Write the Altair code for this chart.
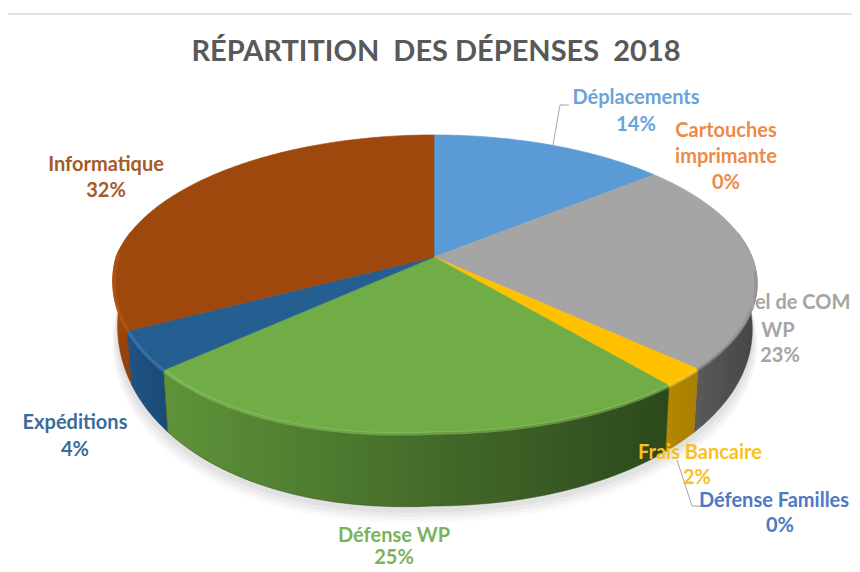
import math
import altair as alt
import pandas as pd

categories = ["Déplacements", "Cartouches imprimante", "Matériel de COM WP", "Frais Bancaire",
              "Défense Familles", "Défense WP", "Expéditions", "Informatique"]
shares = [14, 0, 23, 2, 0, 25, 4, 32]
top_colors = ["#5b9bd5", "#ed7d31", "#a5a5a5", "#ffc000", "#4472c4", "#70ad47", "#255e91", "#9e480e"]
wall_from = ["#5b9bd5", "#ed7d31", "#5a5a5a", "#b58800", "#4472c4", "#5f9339", "#1f5384", "#b8530f"]
wall_to = ["#5b9bd5", "#ed7d31", "#454545", "#a87f00", "#4472c4", "#2c481c", "#1b4a75", "#8a3f0b"]
rim_colors = ["#7db1e0", "#ed7d31", "#8a8a8a", "#ffcf40", "#4472c4", "#8cc761", "#3f7fb8", "#c05a14"]

label_lines = [
    ("Déplacements", 636, 98, "#6ba3d8"), ("14%", 636, 125, "#6ba3d8"),
    ("Cartouches", 726, 131, "#ee8a48"), ("imprimante", 726, 157, "#ee8a48"), ("0%", 726, 183, "#ee8a48"),
    ("Matériel de COM", 773, 303, "#a5a5a5"), ("WP", 778, 331, "#a5a5a5"), ("23%", 780, 356, "#a5a5a5"),
    ("Frais Bancaire", 700, 453, "#f7c21f"), ("2%", 697, 478, "#f7c21f"),
    ("Défense Familles", 774, 501, "#4f78c4"), ("0%", 780, 526, "#4f78c4"),
    ("Défense WP", 394, 536, "#7cb25a"), ("25%", 394, 558, "#7cb25a"),
    ("Expéditions", 75, 423, "#3a6c9a"), ("4%", 75, 450, "#3a6c9a"),
    ("Informatique", 106, 165, "#a55a28"), ("32%", 106, 191, "#a55a28"),
]
leaders = [
    [(569, 105), (560, 105), (553, 145)],
    [(677, 460), (692, 506), (702, 506)],
]
title_text = "RÉPARTITION\u00a0 DES DÉPENSES\u00a0 2018"

W, H = 844, 562
xs = alt.Scale(domain=[8, 8 + W], range=[0, W])
ys = alt.Scale(domain=[8, 8 + H], range=[0, H])
NOAX = None

CX, CY, BX, AY, K = 434, 257, 318, 143.8, 0.178
DEPTH0, DEPTH1, SHRINK = 40, 34, 0.985
TILT = 10


def proj(deg, scale=1.0, s0=0.0, s1=0.0):
    a = math.radians(deg)
    u, v = math.sin(a), math.cos(a)
    d = 1 + K * v
    t = TILT * 2 * max(0, -u) * max(0, -v)
    return CX + scale * BX * u / d + 0.6 * t, CY - AY * v / d + s0 - s1 * v + t


def arc(a0, a1, scale=1.0, s0=0.0, s1=0.0):
    n = max(2, int(abs(a1 - a0)) + 2)
    return [proj(a0 + (a1 - a0) * i / (n - 1), scale, s0, s1) for i in range(n)]


def poly(points, **mark):
    df = pd.DataFrame({"x": [p[0] for p in points], "y": [p[1] for p in points],
                       "i": list(range(len(points)))})
    return alt.Chart(df).mark_line(interpolate="linear", **mark).encode(
        x=alt.X("x:Q", scale=xs, axis=NOAX),
        y=alt.Y("y:Q", scale=ys, axis=NOAX),
        order="i:Q",
    )


def hgrad(c0, c1, vertical=False):
    return alt.Gradient(gradient="linear", x1=0, x2=0 if vertical else 1, y1=0, y2=1 if vertical else 0,
                        stops=[alt.GradientStop(offset=0, color=c0),
                               alt.GradientStop(offset=1, color=c1)])


layers = []

# top rule
layers.append(poly([(8, 14), (8 + W, 14)], stroke="#e3e3e3", strokeWidth=2))

# soft shadow below the pie
for sc, s0, op in [(1.0, 56, 0.04), (1.0, 53, 0.05), (0.995, 50, 0.07), (0.99, 46, 0.09)]:
    pts = arc(90, 270, sc, s0, DEPTH1) + [proj(90, sc, s0, DEPTH1)]
    layers.append(poly(pts, fill="#808080", stroke="#808080", fillOpacity=op, strokeOpacity=0))

# slice boundaries
edges = [0.0]
for s in shares:
    edges.append(edges[-1] + s * 3.6)

# walls, back to front
for idx in [7, 2, 6, 3, 5]:
    a0, a1 = edges[idx], edges[idx + 1]
    lo, hi = max(a0, 80), min(a1, 280)
    if hi <= lo:
        continue
    top = arc(lo, hi)
    bot = arc(hi, lo, SHRINK, DEPTH0, DEPTH1)
    grad = hgrad(wall_from[idx], wall_to[idx], vertical=(idx == 7))
    pts = top + bot + [top[0]]
    layers.append(poly(pts, fill=grad, stroke=wall_to[idx], strokeWidth=0.5))

# top faces
for idx, s in enumerate(shares):
    if s == 0:
        continue
    pts = [(CX, CY)] + arc(edges[idx], edges[idx + 1]) + [(CX, CY)]
    layers.append(poly(pts, fill=top_colors[idx], stroke=top_colors[idx], strokeWidth=0.6))

# bevel highlight on the front edge
for idx in [2, 3, 5, 6, 7]:
    lo, hi = max(edges[idx], 95), min(edges[idx + 1], 272)
    if hi <= lo:
        continue
    layers.append(poly(arc(lo, hi, 0.996, 1), stroke=rim_colors[idx], strokeWidth=3.5, strokeOpacity=0.55))

# leader lines
for pts in leaders:
    layers.append(poly(pts, stroke="#a6a6a6", strokeWidth=1))

# labels
lab = pd.DataFrame(label_lines, columns=["t", "x", "y", "c"])
layers.append(alt.Chart(lab).mark_text(font="Lato", fontWeight="bold", fontSize=20, align="center", baseline="middle").encode(
    x=alt.X("x:Q", scale=xs, axis=NOAX), y=alt.Y("y:Q", scale=ys, axis=NOAX),
    text="t:N", color=alt.Color("c:N", scale=None),
))

# title
layers.append(alt.Chart(pd.DataFrame({"t": [title_text], "x": [436], "y": [52]})).mark_text(
    font="Lato", fontWeight="bold", fontSize=29, color="#595959", align="center", baseline="middle").encode(
    x=alt.X("x:Q", scale=xs, axis=NOAX), y=alt.Y("y:Q", scale=ys, axis=NOAX), text="t:N"))

chart = alt.layer(*layers).properties(
    width=W, height=H, padding=0, autosize=alt.AutoSizeParams(type="none"),
    background="white",
).configure_view(stroke=None)

chart.save("out.html", embed_options={"renderer": "svg", "actions": False})
